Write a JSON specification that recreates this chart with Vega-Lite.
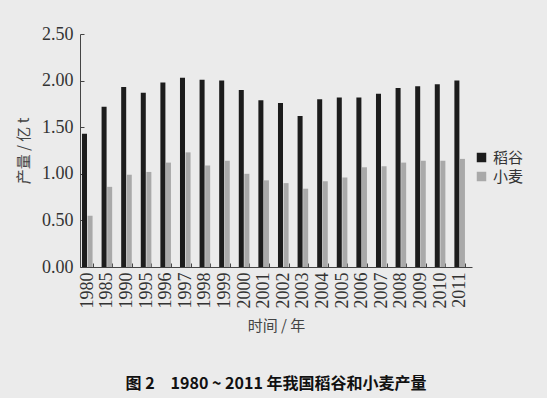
{
  "$schema": "https://vega.github.io/schema/vega-lite/v6.json",
  "width": 392,
  "height": 233,
  "autosize": {"type": "none"},
  "padding": {"left": 80, "top": 34, "right": 75, "bottom": 131},
  "background": "#ebebeb",
  "title": {
    "text": "图 2　1980 ~ 2011 年我国稻谷和小麦产量",
    "orient": "bottom",
    "anchor": "middle",
    "font": "Noto Sans CJK SC",
    "fontSize": 16,
    "fontWeight": "bold",
    "color": "#111111",
    "offset": 43
  },
  "data": {
    "values": [
      {"year": "1980", "crop": "稻谷", "value": 1.43},
      {"year": "1985", "crop": "稻谷", "value": 1.72},
      {"year": "1990", "crop": "稻谷", "value": 1.93},
      {"year": "1995", "crop": "稻谷", "value": 1.87},
      {"year": "1996", "crop": "稻谷", "value": 1.98},
      {"year": "1997", "crop": "稻谷", "value": 2.03},
      {"year": "1998", "crop": "稻谷", "value": 2.01},
      {"year": "1999", "crop": "稻谷", "value": 2.0},
      {"year": "2000", "crop": "稻谷", "value": 1.9},
      {"year": "2001", "crop": "稻谷", "value": 1.79},
      {"year": "2002", "crop": "稻谷", "value": 1.76},
      {"year": "2003", "crop": "稻谷", "value": 1.62},
      {"year": "2004", "crop": "稻谷", "value": 1.8},
      {"year": "2005", "crop": "稻谷", "value": 1.82},
      {"year": "2006", "crop": "稻谷", "value": 1.82},
      {"year": "2007", "crop": "稻谷", "value": 1.86},
      {"year": "2008", "crop": "稻谷", "value": 1.92},
      {"year": "2009", "crop": "稻谷", "value": 1.94},
      {"year": "2010", "crop": "稻谷", "value": 1.96},
      {"year": "2011", "crop": "稻谷", "value": 2.0},
      {"year": "1980", "crop": "小麦", "value": 0.55},
      {"year": "1985", "crop": "小麦", "value": 0.86},
      {"year": "1990", "crop": "小麦", "value": 0.99},
      {"year": "1995", "crop": "小麦", "value": 1.02},
      {"year": "1996", "crop": "小麦", "value": 1.12},
      {"year": "1997", "crop": "小麦", "value": 1.23},
      {"year": "1998", "crop": "小麦", "value": 1.09},
      {"year": "1999", "crop": "小麦", "value": 1.14},
      {"year": "2000", "crop": "小麦", "value": 1.0},
      {"year": "2001", "crop": "小麦", "value": 0.93},
      {"year": "2002", "crop": "小麦", "value": 0.9},
      {"year": "2003", "crop": "小麦", "value": 0.84},
      {"year": "2004", "crop": "小麦", "value": 0.92},
      {"year": "2005", "crop": "小麦", "value": 0.96},
      {"year": "2006", "crop": "小麦", "value": 1.07},
      {"year": "2007", "crop": "小麦", "value": 1.08},
      {"year": "2008", "crop": "小麦", "value": 1.12},
      {"year": "2009", "crop": "小麦", "value": 1.14},
      {"year": "2010", "crop": "小麦", "value": 1.14},
      {"year": "2011", "crop": "小麦", "value": 1.16}
    ]
  },
  "mark": {"type": "bar"},
  "encoding": {
    "x": {
      "field": "year",
      "type": "nominal",
      "sort": null,
      "scale": {"paddingInner": 0.46, "paddingOuter": 0.23, "align": 0.22},
      "axis": {
        "title": "时间 / 年",
        "titleFont": "Noto Sans CJK SC",
        "titleFontSize": 15,
        "titleFontWeight": "normal",
        "titleColor": "#444444",
        "titlePadding": 10,
        "labelAngle": 270,
        "labelFont": "Liberation Serif",
        "labelFontSize": 18,
        "labelColor": "#333333",
        "labelPadding": 9,
        "tickBand": "extent",
        "tickSize": -4,
        "tickColor": "#444444",
        "domainColor": "#444444"
      }
    },
    "xOffset": {
      "field": "crop",
      "type": "nominal",
      "sort": ["稻谷", "小麦"],
      "scale": {"paddingInner": 0.1}
    },
    "y": {
      "field": "value",
      "type": "quantitative",
      "scale": {"domain": [0, 2.5], "nice": false},
      "axis": {
        "title": "产量 / 亿 t",
        "titleFont": "Noto Sans CJK SC",
        "titleFontSize": 15,
        "titleFontWeight": "normal",
        "titleColor": "#444444",
        "titlePadding": 10,
        "values": [0, 0.5, 1, 1.5, 2, 2.5],
        "format": ".2f",
        "labelFont": "Liberation Serif",
        "labelFontSize": 18,
        "labelColor": "#333333",
        "labelPadding": 11,
        "tickSize": -4,
        "tickColor": "#444444",
        "domainColor": "#444444",
        "grid": false
      }
    },
    "color": {
      "field": "crop",
      "type": "nominal",
      "sort": ["稻谷", "小麦"],
      "scale": {"domain": ["稻谷", "小麦"], "range": ["#1c1c1c", "#a9a9a9"]},
      "legend": {
        "title": null,
        "orient": "none",
        "legendX": 394,
        "legendY": 116,
        "symbolType": "square",
        "symbolSize": 90,
        "symbolStrokeWidth": 0,
        "labelFont": "Noto Sans CJK SC",
        "labelFontSize": 15,
        "labelColor": "#333333",
        "rowPadding": 3
      }
    }
  },
  "config": {
    "view": {"stroke": null},
    "axis": {"domainWidth": 1, "tickWidth": 1}
  }
}
